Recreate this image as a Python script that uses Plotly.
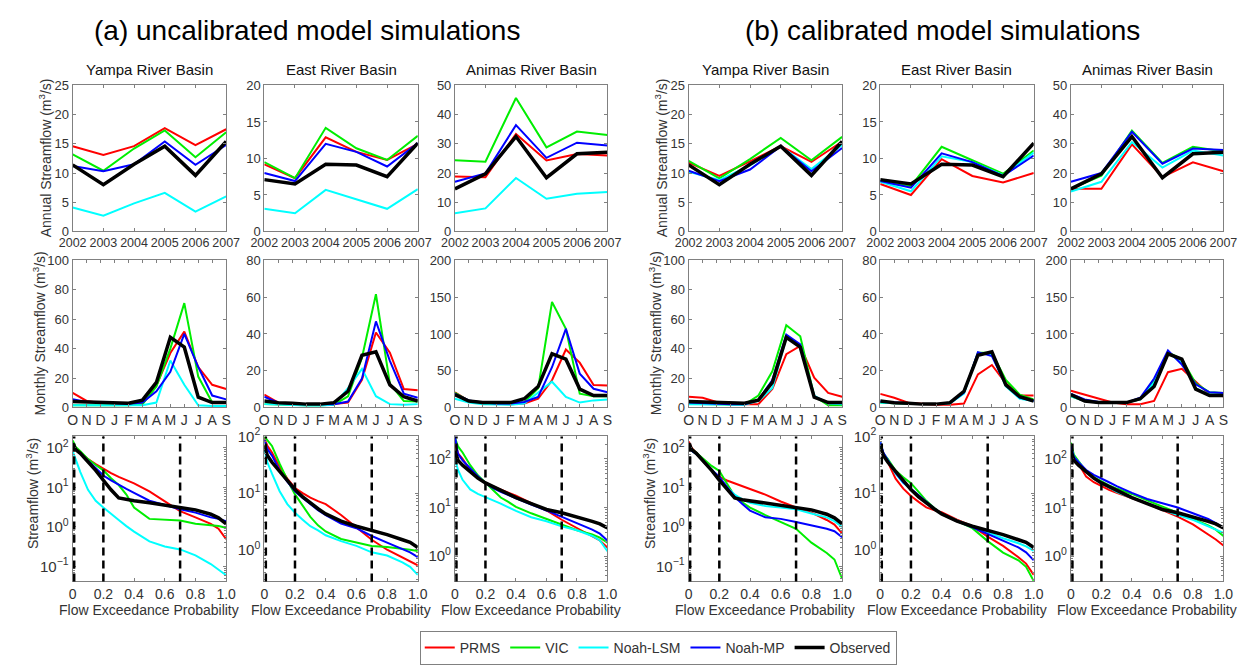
import math
import plotly.graph_objects as go

W, H = 1256, 665

MODELS = ["PRMS", "VIC", "Noah-LSM", "Noah-MP", "Observed"]
COLORS = ["#ff0000", "#00ee00", "#00ffff", "#0000ff", "#000000"]
WIDTHS = [2, 2, 2, 2, 3.5]

GROUP_TITLES = ["(a) uncalibrated model simulations", "(b) calibrated model simulations"]
BASINS = ["Yampa River Basin", "East River Basin", "Animas River Basin"]

YEARS = [2002, 2003, 2004, 2005, 2006, 2007]
MONTHS = ["O", "N", "D", "J", "F", "M", "A", "M", "J", "J", "A", "S"]
EXCEED_P = [0, 0.02, 0.05, 0.1, 0.15, 0.2, 0.25, 0.3, 0.35, 0.4, 0.5, 0.6, 0.7, 0.8, 0.9, 0.95, 1.0]
EXCEED_MARKS = [0.01, 0.2, 0.7]

# ---------------- annual streamflow (m3/s) ----------------
OBS_ANN_YAMPA = [11.4, 8.0, 11.5, 14.6, 9.6, 15.4]
OBS_ANN_EAST = [7.1, 6.5, 9.2, 9.1, 7.5, 12.1]
OBS_ANN_ANIMAS = [14.6, 19.7, 32.5, 18.4, 26.6, 27.1]

ANN_A_YAMPA = {"PRMS": [14.6, 13.1, 14.6, 17.7, 14.8, 17.5], "VIC": [13.2, 10.4, 14.2, 17.3, 12.7, 17.0],
               "Noah-LSM": [4.1, 2.7, 4.8, 6.6, 3.4, 6.0], "Noah-MP": [11.2, 10.3, 11.5, 15.4, 11.4, 14.8]}
ANN_A_EAST = {"PRMS": [9.2, 7.3, 12.9, 10.9, 9.8, 12.0], "VIC": [9.5, 7.3, 14.2, 11.4, 9.8, 13.1],
              "Noah-LSM": [3.1, 2.5, 5.7, 4.4, 3.1, 5.8], "Noah-MP": [8.0, 6.9, 12.0, 10.9, 8.9, 12.1]}
ANN_A_ANIMAS = {"PRMS": [18.8, 18.6, 33.4, 24.3, 26.5, 26.0], "VIC": [24.4, 23.9, 45.7, 28.8, 34.2, 33.0],
                "Noah-LSM": [6.2, 7.9, 18.3, 11.2, 12.9, 13.5], "Noah-MP": [17.0, 19.9, 36.4, 25.2, 30.4, 29.4]}
ANN_B_YAMPA = {"PRMS": [11.8, 9.5, 12.0, 14.6, 11.9, 15.4], "VIC": [12.1, 9.1, 12.4, 16.0, 12.2, 16.2],
               "Noah-LSM": [10.2, 8.8, 11.3, 14.6, 10.7, 14.8], "Noah-MP": [10.4, 8.6, 10.6, 14.6, 10.3, 14.3]}
ANN_B_EAST = {"PRMS": [6.5, 5.0, 9.9, 7.6, 6.7, 8.0], "VIC": [6.8, 6.2, 11.6, 9.8, 7.9, 11.1],
              "Noah-LSM": [6.8, 5.5, 10.3, 9.5, 7.7, 10.8], "Noah-MP": [6.9, 6.0, 10.7, 9.5, 7.6, 10.4]}
ANN_B_ANIMAS = {"PRMS": [14.6, 14.6, 29.8, 18.6, 23.7, 20.6], "VIC": [14.6, 19.1, 34.5, 23.5, 29.0, 27.4],
                "Noah-LSM": [13.7, 17.0, 30.6, 21.9, 27.7, 26.0], "Noah-MP": [17.0, 20.0, 34.1, 23.2, 28.4, 27.9]}

# ---------------- monthly streamflow (m3/s) ----------------
OBS_MON_YAMPA = [4, 3.7, 3.3, 2.9, 2.9, 5, 17, 47.7, 41, 7, 3.3, 3.3]
OBS_MON_EAST = [3.5, 2.6, 2.3, 1.8, 1.8, 2.6, 8.8, 28.4, 30.3, 12.3, 5.8, 3.5]
OBS_MON_ANIMAS = [17.5, 8.8, 6.6, 6.6, 6.6, 11.8, 28.4, 73, 65.6, 25, 16.2, 16.2]

MON_A_YAMPA = {"PRMS": [9.9, 4.4, 3, 2.5, 2.5, 2.5, 15, 37, 51.6, 27.5, 15.4, 12.5],
               "VIC": [1.5, 1.5, 1.5, 1.5, 1.5, 2.2, 14.3, 40, 71, 21, 3.3, 3.3],
               "Noah-LSM": [1.5, 1.5, 1.2, 1, 1, 1.5, 3.3, 31.9, 15.4, 1.5, 1, 1],
               "Noah-MP": [5.5, 3.7, 3.3, 2.9, 2.5, 3.3, 11, 24.2, 50, 27.5, 8.1, 5.5]}
MON_A_EAST = {"PRMS": [7, 2.6, 1.8, 1.5, 1.5, 1.8, 2.6, 15, 40.8, 29.8, 10, 9.3],
              "VIC": [1.8, 1.5, 1.3, 1.2, 1.2, 1.5, 6, 27, 61.6, 13, 3.5, 3.2],
              "Noah-LSM": [1.8, 1.5, 1.2, 1, 1, 1.5, 10.5, 21, 6.1, 1.8, 1.4, 1.8],
              "Noah-MP": [5.8, 2.6, 2, 1.8, 1.8, 1.8, 3.2, 15.8, 46.8, 25.4, 7.5, 5.3]}
MON_A_ANIMAS = {"PRMS": [20.6, 8.8, 5.3, 4.4, 4.4, 5.3, 11.8, 37, 78.8, 61, 30.6, 29.8],
                "VIC": [19.7, 8.8, 6, 5, 5, 7, 26, 143.5, 107, 18.8, 15.3, 15.3],
                "Noah-LSM": [11.8, 6.6, 4.4, 3.5, 3.5, 5.3, 19.7, 35, 14.4, 6.6, 9.6, 10.9],
                "Noah-MP": [18.4, 9.6, 6.6, 5.3, 5.3, 7.4, 14.4, 54.7, 107, 46, 25.4, 20.6]}
MON_B_YAMPA = {"PRMS": [7.3, 6.6, 3.7, 2.6, 2.2, 2.2, 12.5, 36.3, 41.8, 20.2, 9.9, 7.3],
               "VIC": [2.5, 2.2, 2, 2, 2, 8.1, 24.6, 56, 48.4, 7.7, 1.5, 1.5],
               "Noah-LSM": [2.2, 2, 1.8, 1.8, 1.8, 4.4, 13.2, 47.3, 41.8, 8.1, 2.6, 2.2],
               "Noah-MP": [3.3, 2.8, 2.5, 2.2, 2.2, 5, 18.7, 49.5, 42.9, 7.3, 3.3, 3.3]}
MON_B_EAST = {"PRMS": [7.4, 5.3, 2.6, 1.8, 1.4, 1.4, 2.1, 18, 23.1, 13.1, 6.5, 6.5],
              "VIC": [2.6, 2.3, 2, 1.8, 1.8, 2.3, 7.9, 29.8, 29.8, 14.9, 7, 4.4],
              "Noah-LSM": [2.6, 2.3, 2, 1.8, 1.8, 2.3, 7.5, 29.2, 28.9, 11.4, 4.7, 3.5],
              "Noah-MP": [3.2, 2.6, 2.2, 1.8, 1.8, 2.4, 8, 30.1, 28, 12.3, 5.3, 3.5]}
MON_B_ANIMAS = {"PRMS": [22.8, 17.5, 11.8, 6.6, 4.4, 4.4, 8.8, 48, 52.5, 35, 17.5, 15.3],
                "VIC": [15.3, 8.8, 6.6, 6.6, 6.6, 10.9, 37, 75, 65.6, 32.8, 20.6, 19.7],
                "Noah-LSM": [15.3, 8.8, 6.6, 6.6, 6.6, 10.9, 33.7, 74.4, 61, 26.3, 17.5, 16.2],
                "Noah-MP": [18.4, 10.9, 7.4, 6.6, 6.6, 13.1, 39.4, 77.5, 58.2, 31.5, 20.6, 19.7]}

# ---------------- flow duration curves (m3/s) ----------------
OBS_FDC_YAMPA = [132, 91, 73, 45, 27, 15.2, 8.7, 5.4, 4.9, 4.6, 4.1, 3.6, 3.1, 2.7, 2.1, 1.7, 1.2]
OBS_FDC_EAST = [68, 46, 35, 24, 16, 11.5, 8.6, 6.6, 5.3, 4.3, 3.2, 2.6, 2.2, 1.85, 1.5, 1.35, 1.1]
OBS_FDC_ANIMAS = [146, 93, 74, 53, 40, 32, 27, 23.5, 19.5, 16, 12, 9.1, 7.8, 6.5, 5.2, 4.6, 3.8]

FDC_A_YAMPA = {"PRMS": [120, 95, 75, 52, 39, 29.5, 23, 18.5, 15.5, 12.7, 7.9, 4.5, 2.5, 1.75, 1.2, 0.9, 0.49],
               "VIC": [155, 105, 83, 52, 37, 27, 17, 11.5, 6.6, 3.1, 1.6, 1.5, 1.45, 1.2, 1.1, 1.05, 0.95],
               "Noah-LSM": [83, 52, 24.5, 8.7, 4.6, 3.1, 2.1, 1.5, 1.05, 0.76, 0.43, 0.32, 0.27, 0.19, 0.115, 0.085, 0.06],
               "Noah-MP": [114, 90, 73, 47, 30, 20, 15, 11.5, 9.2, 7.3, 4.6, 3.6, 2.8, 2.3, 1.75, 1.6, 1.4]}
FDC_A_EAST = {"PRMS": [93, 68, 52, 29, 18, 12.3, 10, 8.3, 7.2, 6.4, 4.1, 2.5, 1.5, 1.0, 0.74, 0.62, 0.53],
              "VIC": [100, 85, 68, 33, 17, 9.5, 6.1, 3.8, 2.7, 2.1, 1.55, 1.34, 1.17, 1.12, 1.05, 1.0, 0.95],
              "Noah-LSM": [59, 35, 22, 10.8, 6.4, 4.5, 3.4, 2.6, 2.2, 1.8, 1.42, 1.17, 0.9, 0.79, 0.6, 0.5, 0.36],
              "Noah-MP": [88, 60, 46, 25, 16, 10.8, 8.2, 6.3, 5.0, 4.1, 2.9, 2.4, 1.75, 1.34, 1.02, 0.9, 0.74]}
FDC_A_ANIMAS = {"PRMS": [214, 130, 100, 59, 42, 32, 27, 23.5, 20, 17.5, 12.3, 8.7, 5.6, 3.8, 2.6, 2.1, 1.5],
                "VIC": [270, 180, 135, 74, 46, 32, 22, 16, 13, 10.3, 7.6, 5.8, 4.3, 3.4, 2.8, 2.4, 1.9],
                "Noah-LSM": [100, 59, 37, 23.5, 19, 16, 14, 12, 10, 8.5, 6.3, 5.2, 4.1, 3.4, 2.6, 2.1, 1.26],
                "Noah-MP": [290, 126, 93, 63, 44, 32, 25, 21, 18, 15.6, 11.5, 8.7, 6.5, 4.8, 3.5, 2.9, 2.1]}
FDC_B_YAMPA = {"PRMS": [146, 100, 75, 43, 27, 18.5, 15, 12.6, 10.5, 9.1, 6.6, 4.4, 3.1, 2.3, 1.5, 1.15, 0.69],
               "VIC": [120, 95, 75, 52, 35, 26, 12, 6.0, 4.2, 3.1, 2.0, 1.33, 0.9, 0.4, 0.22, 0.15, 0.049],
               "Noah-LSM": [110, 85, 70, 43, 28, 18, 10, 6.6, 5.0, 4.1, 3.4, 3.1, 2.8, 2.2, 1.75, 1.4, 1.0],
               "Noah-MP": [110, 85, 70, 43, 28, 18.5, 10, 5.8, 3.8, 2.6, 1.75, 1.6, 1.33, 1.1, 0.9, 0.78, 0.55]}
FDC_B_EAST = {"PRMS": [72, 50, 35, 18, 12, 8.9, 7, 5.6, 5, 4.6, 3.4, 2.6, 1.7, 1.17, 0.74, 0.57, 0.36],
              "VIC": [68, 50, 40, 25, 19, 15, 10.5, 7.3, 5.5, 4.3, 3.2, 2.4, 1.42, 0.89, 0.65, 0.5, 0.28],
              "Noah-LSM": [79, 50, 38, 22, 15, 11.5, 8.8, 7, 5.4, 4.3, 3.3, 2.6, 2.0, 1.6, 1.3, 1.15, 0.96],
              "Noah-MP": [80, 52, 38, 23, 15.5, 11.8, 9, 7.0, 5.4, 4.3, 3.2, 2.5, 1.9, 1.48, 1.1, 0.9, 0.65]}
FDC_B_ANIMAS = {"PRMS": [158, 100, 79, 43, 33, 27.5, 23, 20, 17.5, 15.6, 12, 8.8, 6.5, 4.5, 2.8, 2.2, 1.65],
                "VIC": [214, 120, 90, 55, 42, 34.5, 28.5, 24.5, 21.5, 19, 14, 10.3, 7.8, 5.8, 4.3, 3.5, 2.6],
                "Noah-LSM": [170, 110, 85, 55, 40, 32, 25.5, 21, 18, 16, 12.3, 9.1, 7, 5.6, 4.1, 3.6, 3.0],
                "Noah-MP": [180, 110, 85, 59, 47, 40, 33, 27.5, 23, 20, 15, 12.3, 10, 7.6, 5.8, 4.8, 3.8]}

ANN_MAX = [25, 20, 50]
ANN_DT = [5, 5, 10]
MON_MAX = [100, 80, 200]
MON_DT = [20, 20, 50]
FDC_LOGRANGE = [[-1.38, 2.29], [-0.56, 2.0], [-0.52, 2.46]]
FDC_TICKS = [[0.1, 1, 10, 100], [1, 10, 100], [1, 10, 100]]

# ---------------- layout geometry (pixels) ----------------
COL_PX = [[(60, 217), (256, 413), (451, 607)], [(690, 847), (886, 1043), (1081, 1237)]]
ROW_PX = [(77, 228), (258, 410), (440, 590)]

FONT = "Liberation Sans, Arial, sans-serif"
TXT = "#333333"
FRAME = "#808080"

fig = go.Figure()

panels = {
    (0, 0): (ANN_A_YAMPA, ANN_A_EAST, ANN_A_ANIMAS),
    (0, 1): (MON_A_YAMPA, MON_A_EAST, MON_A_ANIMAS),
    (0, 2): (FDC_A_YAMPA, FDC_A_EAST, FDC_A_ANIMAS),
    (1, 0): (ANN_B_YAMPA, ANN_B_EAST, ANN_B_ANIMAS),
    (1, 1): (MON_B_YAMPA, MON_B_EAST, MON_B_ANIMAS),
    (1, 2): (FDC_B_YAMPA, FDC_B_EAST, FDC_B_ANIMAS),
}
observed = {0: (OBS_ANN_YAMPA, OBS_ANN_EAST, OBS_ANN_ANIMAS),
            1: (OBS_MON_YAMPA, OBS_MON_EAST, OBS_MON_ANIMAS),
            2: (OBS_FDC_YAMPA, OBS_FDC_EAST, OBS_FDC_ANIMAS)}
xvals = {0: YEARS, 1: list(range(len(MONTHS))), 2: EXCEED_P}

axis_common = dict(showline=True, linecolor=FRAME, linewidth=1, mirror="ticks", ticks="inside",
                   ticklen=3, tickcolor=FRAME, showgrid=False, zeroline=False,
                   tickfont=dict(family=FONT, size=13, color=TXT))

shapes = []
annotations = []


def ann(text, x, y, size, color=TXT, angle=0):
    return dict(text=text, xref="paper", yref="paper", x=x / W, y=1 - y / H, xanchor="center",
                yanchor="middle", showarrow=False, textangle=angle,
                font=dict(family=FONT, size=size, color=color))


k = 0
first = True
for g in range(2):
    for r in range(3):
        for c in range(3):
            k += 1
            xa = "x" if k == 1 else f"x{k}"
            ya = "y" if k == 1 else f"y{k}"
            x0, x1 = COL_PX[g][c]
            y0, y1 = ROW_PX[r]
            data = panels[(g, r)][c]
            obs = observed[r][c]
            series = [data["PRMS"], data["VIC"], data["Noah-LSM"], data["Noah-MP"], obs]
            for i, m in enumerate(MODELS):
                fig.add_trace(go.Scatter(
                    x=xvals[r], y=series[i], mode="lines", name=m, legendgroup=m,
                    showlegend=first, line=dict(color=COLORS[i], width=WIDTHS[i]),
                    xaxis=xa, yaxis=ya, hoverinfo="skip"))
            first = False

            xd = dict(axis_common, domain=[x0 / W, x1 / W], anchor=ya, tickangle=0)
            yd = dict(axis_common, domain=[1 - y1 / H, 1 - y0 / H], anchor=xa)
            if r == 0:
                xd.update(range=[YEARS[0], YEARS[-1]], tickvals=YEARS, ticktext=[str(v) for v in YEARS],
                          tickfont=dict(family=FONT, size=12.5, color=TXT))
                yd.update(range=[0, ANN_MAX[c]], dtick=ANN_DT[c], tick0=0)
            elif r == 1:
                xd.update(range=[0, len(MONTHS) - 1], tickvals=list(range(len(MONTHS))), ticktext=MONTHS,
                          tickfont=dict(family=FONT, size=14, color=TXT))
                yd.update(range=[0, MON_MAX[c]], dtick=MON_DT[c], tick0=0)
            else:
                xd.update(range=[0, 1], tickvals=[0, 0.2, 0.4, 0.6, 0.8, 1.0],
                          ticktext=["0", "0.2", "0.4", "0.6", "0.8", "1.0"],
                          tickfont=dict(family=FONT, size=14, color=TXT))
                tv = FDC_TICKS[c]
                yd.update(type="log", range=FDC_LOGRANGE[c], tickvals=tv,
                          ticktext=[f"10<sup>{int(round(math.log10(v)))}</sup>".replace("-", "\u2212") for v in tv],
                          tickfont=dict(family=FONT, size=15, color=TXT),
                          minor=dict(ticks="inside", ticklen=2, tickcolor=FRAME, dtick="D1", showgrid=False))
                for pm in EXCEED_MARKS:
                    shapes.append(dict(type="line", xref=xa, yref=f"{ya} domain", x0=pm, x1=pm, y0=0, y1=1,
                                       line=dict(color="black", width=2.5, dash="8px,5px"), layer="above"))
                annotations.append(ann("Flow Exceedance Probability", (x0 + x1) / 2, 619, 14))
            key = "" if k == 1 else str(k)
            fig.layout["xaxis" + key] = xd
            fig.layout["yaxis" + key] = yd

            if r == 0:
                annotations.append(ann(BASINS[c], (x0 + x1) / 2, 61, 15, "#111111"))

# group titles
for g, cx in enumerate([300, 950]):
    annotations.append(ann(GROUP_TITLES[g], cx, 20, 28, "black"))

# y-axis titles
YT = [("Annual Streamflow (m<sup>3</sup>/s)", 152), ("Monthly Streamflow (m<sup>3</sup>/s)", 333),
      ("Streamflow (m<sup>3</sup>/s)", 499)]
YT_X = [[32, 26, 19], [662, 656, 650]]
for g in range(2):
    for r, (t, cy) in enumerate(YT):
        annotations.append(ann(t, YT_X[g][r], cy, 14, TXT, -90))

fig.update_layout(
    width=W, height=H, margin=dict(l=0, r=0, t=0, b=0),
    paper_bgcolor="white", plot_bgcolor="white",
    shapes=shapes, annotations=annotations,
    legend=dict(orientation="h", x=415 / W, y=1 - 641 / H, xanchor="left", yanchor="top",
                bordercolor=FRAME, borderwidth=1, bgcolor="white",
                font=dict(family=FONT, size=14, color=TXT), itemwidth=30, tracegroupgap=0),
)

fig.write_html("out.html")
